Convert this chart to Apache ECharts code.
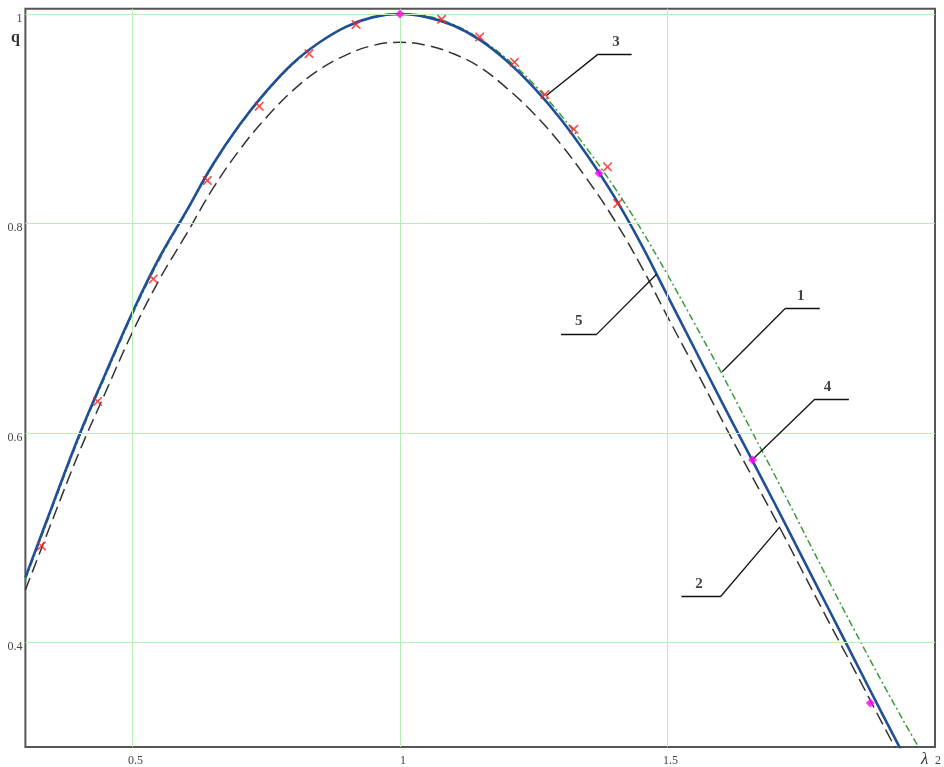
<!DOCTYPE html>
<html>
<head>
<meta charset="utf-8">
<script src="https://cdn.jsdelivr.net/npm/echarts@6/dist/echarts.min.js"></script>
<style>
html,body{margin:0;padding:0;background:#fff;}
#chart{width:944px;height:767px;}
</style>
</head>
<body>
<div id="chart"></div>
<script>
// ---- data ----
const lambda = [0.30,0.35,0.40,0.45,0.50,0.55,0.60,0.65,0.70,0.75,0.80,0.85,0.90,0.95,1.00,
                1.05,1.10,1.15,1.20,1.25,1.30,1.35,1.40,1.45,1.50,1.55,1.60,1.65,1.70,1.75,
                1.80,1.85,1.90,1.95,2.00];
// curve 5 (solid blue)
const qBlue = [0.462,0.530,0.597,0.657,0.715,0.767,0.811,0.856,0.894,0.926,0.953,0.973,0.988,0.997,1.000,
               0.997,0.989,0.975,0.955,0.930,0.900,0.865,0.826,0.781,0.731,0.681,0.631,0.582,0.533,0.483,
               0.433,0.383,0.333,0.284,0.235];
// curve 1 (green dash-dot)
const qGreen = [0.460,0.528,0.595,0.655,0.713,0.765,0.810,0.855,0.893,0.925,0.952,0.973,0.988,0.997,1.000,
                0.998,0.990,0.976,0.957,0.933,0.904,0.871,0.835,0.795,0.751,0.705,0.658,0.609,0.560,0.510,
                0.460,0.411,0.363,0.317,0.273];
// curve 2 (black dashed)
const qDash = [0.450,0.516,0.581,0.639,0.696,0.746,0.789,0.833,0.870,0.901,0.927,0.947,0.961,0.970,0.973,
               0.970,0.962,0.949,0.929,0.905,0.876,0.842,0.804,0.760,0.711,0.663,0.614,0.566,0.519,0.470,
               0.421,0.373,0.324,0.276,0.229];
// curve 3 (red crosses, experiment)
const crossL = [0.330,0.435,0.539,0.640,0.737,0.830,0.918,1.078,1.149,1.214,1.271,1.325,1.388,1.407];
const crossQ = [0.492,0.630,0.747,0.841,0.912,0.962,0.990,0.995,0.978,0.954,0.923,0.890,0.854,0.819];
// curve 4 (magenta points)
const dotL = [1.000,1.372,1.659,1.879];
const dotQ = [1.000,0.848,0.574,0.342];
// tick labels
const xTicks = [0.5,1,1.5,2];
const yTicks = [0.4,0.6,0.8,1];

// ---- build ----
const zip = (a,b) => a.map((v,i) => [v,b[i]]);
const serif = 'Liberation Serif';

const gridColor = '#b6f0b6';
const gridLines = xTicks.filter(v => v < 2).map(v => ({xAxis: v}))
  .concat(yTicks.map(v => ({yAxis: v})));

// leader lines for the curve numbers (data coordinates)
const leaders = [
  {name:'3', text:[1.404,0.9736], bar:[[1.371,0.9619],[1.433,0.9619]], tip:[1.2737,0.9222]},
  {name:'5', text:[1.334,0.7070], bar:[[1.301,0.6943],[1.368,0.6943]], tip:[1.4796,0.7514], joinRight:true},
  {name:'1', text:[1.749,0.7305], bar:[[1.720,0.7188],[1.7846,0.7188]], tip:[1.6023,0.6584]},
  {name:'4', text:[1.799,0.6435], bar:[[1.7758,0.6324],[1.839,0.6324]], tip:[1.6594,0.5748]},
  {name:'2', text:[1.559,0.4552], bar:[[1.526,0.4435],[1.599,0.4435]], tip:[1.7101,0.5102], joinRight:true}
];
const leaderLines = [];
leaders.forEach(l => {
  leaderLines.push([{coord:l.bar[0]},{coord:l.bar[1]}]);
  const j = l.joinRight ? l.bar[1] : l.bar[0];
  leaderLines.push([{coord:j},{coord:l.tip}]);
});

const crossPath = 'path://M0,0L1.3,0L5,3.7L8.7,0L10,0L10,1.3L6.3,5L10,8.7L10,10L8.7,10L5,6.3L1.3,10L0,10L0,8.7L3.7,5L0,1.3Z';

const chart = echarts.init(document.getElementById('chart'), null, {renderer:'canvas'});
chart.setOption({
  animation: false,
  backgroundColor: '#fff',
  grid: {left:25.4, right:4, top:8.75, bottom:18, show:true, borderColor:'#555', borderWidth:2, backgroundColor:'#fff'},
  xAxis: {
    type:'value', min:0.3, max:2,
    axisLine:{show:false}, axisTick:{show:false}, splitLine:{show:false},
    axisLabel:{customValues:xTicks, formatter:v=>String(v), color:'#444', fontFamily:serif, fontSize:12, margin:8, padding:[0,0,0,6]}
  },
  yAxis: {
    type:'value', min:0.3, max:1.005,
    axisLine:{show:false}, axisTick:{show:false}, splitLine:{show:false},
    axisLabel:{customValues:yTicks, formatter:v=>'{a|' + v + '}', margin:3,
      rich:{a:{color:'#444', fontFamily:serif, fontSize:12, padding:[9,0,0,0]}}}
  },
  graphic: [
    {type:'text', left:11, top:30, style:{text:'q', font:'bold 16px "Liberation Serif"', fill:'#333'}},
    {type:'text', left:921, top:751, style:{text:'λ', font:'italic 17px "Liberation Serif"', fill:'#333'}}
  ],
  series: [
    {type:'line', name:'grid', data:[[0.3,0.3]], symbol:'none', lineStyle:{width:0}, z:1, silent:true,
     markLine:{symbol:['none','none'], silent:true, label:{show:false},
       lineStyle:{color:gridColor, width:1, type:'solid', opacity:1}, data:gridLines}},
    {type:'line', name:'2', data:zip(lambda,qDash), smooth:0.4, symbol:'none', z:3,
     lineStyle:{color:'#333', width:1.5, type:[13,6]}},
    {type:'line', name:'1', data:zip(lambda,qGreen), smooth:0.4, symbol:'none', z:3,
     lineStyle:{color:'#3a9a3a', width:1.5, type:[7,3,2,3]}},
    {type:'line', name:'5', data:zip(lambda,qBlue), smooth:0.4, symbol:'none', z:4,
     lineStyle:{color:'#1f4f96', width:2.6}},
    {type:'scatter', name:'3', data:zip(crossL,crossQ), symbol:crossPath, symbolSize:9, z:5,
     itemStyle:{color:'#ff2020'}},
    {type:'scatter', name:'4', data:zip(dotL,dotQ), symbol:'diamond', symbolSize:9, z:5,
     itemStyle:{color:'#ff00ff'}},
    {type:'line', name:'leaders', data:[[0.3,0.3]], symbol:'none', lineStyle:{width:0}, z:6, silent:true,
     markLine:{symbol:['none','none'], silent:true, label:{show:false}, lineStyle:{color:'#111', width:1.3, type:'solid'}, data:leaderLines}},
    {type:'scatter', name:'numbers', data:leaders.map(l => ({name:l.name, value:l.text})), symbolSize:1, z:7,
     itemStyle:{color:'transparent'},
     label:{show:true, position:'inside', formatter:'{b}', fontFamily:serif, fontWeight:'bold', fontSize:15, color:'#111'}}
  ]
});
</script>
</body>
</html>
